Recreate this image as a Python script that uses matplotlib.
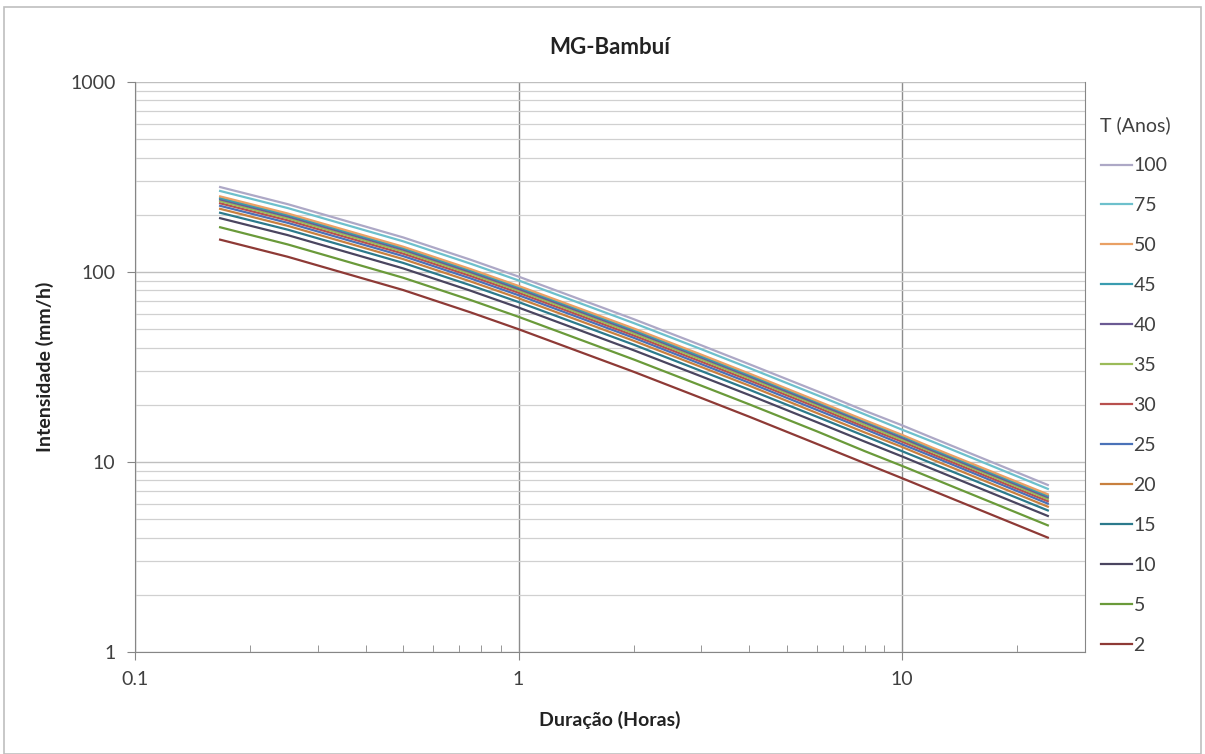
import matplotlib
matplotlib.use("Agg")
import matplotlib.pyplot as plt
from matplotlib.patches import Rectangle
from matplotlib.ticker import FixedLocator, LogLocator, NullFormatter

plt.rcParams["font.family"] = ["Lato", "DejaVu Sans"]

# Duration (hours) and intensity (mm/h)
durations = [0.1667, 0.25, 0.5, 0.75, 1, 2, 3, 4, 6, 8, 10, 12, 24]

return_periods = ["2", "5", "10", "15", "20", "25", "30", "35", "40", "45", "50", "75", "100"]

i_2 = [148, 120.3, 80.4, 61.3, 50.0, 29.8, 21.7, 17.3, 12.45, 9.85, 8.22, 7.07, 4.00]
i_5 = [172, 139.7, 93.3, 71.2, 58.1, 34.6, 25.2, 20.1, 14.5, 11.4, 9.54, 8.21, 4.64]
i_10 = [192, 156.4, 104.5, 79.7, 65.0, 38.7, 28.2, 22.5, 16.2, 12.8, 10.7, 9.19, 5.20]
i_15 = [205, 167.1, 111.7, 85.1, 69.5, 41.4, 30.1, 24.0, 17.3, 13.7, 11.4, 9.82, 5.56]
i_20 = [215, 175.0, 117.0, 89.2, 72.8, 43.4, 31.6, 25.2, 18.1, 14.3, 12.0, 10.3, 5.82]
i_25 = [223, 181.5, 121.3, 92.5, 75.5, 45.0, 32.7, 26.1, 18.8, 14.9, 12.4, 10.7, 6.04]
i_30 = [230, 187.1, 125.0, 95.3, 77.8, 46.3, 33.7, 26.9, 19.4, 15.3, 12.8, 11.0, 6.22]
i_35 = [236, 191.9, 128.2, 97.8, 79.8, 47.5, 34.6, 27.6, 19.9, 15.7, 13.1, 11.3, 6.38]
i_40 = [241, 196.1, 131.1, 99.9, 81.5, 48.6, 35.4, 28.2, 20.3, 16.1, 13.4, 11.5, 6.52]
i_45 = [245, 199.8, 133.5, 101.8, 83.1, 49.5, 36.0, 28.7, 20.7, 16.4, 13.7, 11.7, 6.64]
i_50 = [250, 203.3, 135.9, 103.6, 84.5, 50.4, 36.7, 29.2, 21.0, 16.6, 13.9, 11.9, 6.76]
i_75 = [267, 217.1, 145.1, 110.6, 90.3, 53.8, 39.2, 31.2, 22.5, 17.8, 14.8, 12.8, 7.22]
i_100 = [280, 227.6, 152.1, 116.0, 94.6, 56.4, 41.1, 32.7, 23.6, 18.6, 15.6, 13.4, 7.57]

intensities = [i_2, i_5, i_10, i_15, i_20, i_25, i_30, i_35, i_40, i_45, i_50, i_75, i_100]

colors = ["#8E3A36", "#6A9A3A", "#4A4560", "#2C7A8C", "#C8803F", "#4A72B8",
          "#B8504E", "#9BBB59", "#6B5A93", "#3A9CB0", "#E9A064", "#6DC0CC", "#ADA8C6"]

W, H = 1205, 754
fig = plt.figure(figsize=(W / 100, H / 100), dpi=100)
ax = fig.add_axes([135 / W, 1 - 652 / H, (1085 - 135) / W, (652 - 82) / H])

# chart area border
fig.patches.append(Rectangle((4 / W, 0), 1 - 8 / W, 1 - 7 / H, transform=fig.transFigure,
                             fill=False, edgecolor="#BFBFBF", linewidth=1.2))

lines = []
for label, vals, c in zip(return_periods, intensities, colors):
    ln, = ax.plot(durations, vals, color=c, linewidth=1.6, label=label)
    lines.append(ln)

ax.set_xscale("log")
ax.set_yscale("log")
ax.set_xlim(0.1, 30)
ax.set_ylim(1, 1000)

ax.xaxis.set_major_locator(FixedLocator([0.1, 1, 10]))
ax.xaxis.set_major_formatter(matplotlib.ticker.FixedFormatter(["0.1", "1", "10"]))
ax.xaxis.set_minor_locator(LogLocator(base=10, subs=range(2, 10), numticks=20))
ax.xaxis.set_minor_formatter(NullFormatter())
ax.yaxis.set_major_locator(FixedLocator([1, 10, 100, 1000]))
ax.yaxis.set_major_formatter(matplotlib.ticker.FixedFormatter(["1", "10", "100", "1000"]))
ax.yaxis.set_minor_locator(LogLocator(base=10, subs=range(2, 10), numticks=20))
ax.yaxis.set_minor_formatter(NullFormatter())

ax.grid(which="major", axis="x", color="#8C8C8C", linewidth=1.0)
ax.grid(which="major", axis="y", color="#BFBFBF", linewidth=1.0)
ax.grid(which="minor", axis="y", color="#D0D0D0", linewidth=0.9)
ax.set_axisbelow(True)

for side in ["left", "bottom", "right"]:
    ax.spines[side].set_color("#868686")
ax.spines["top"].set_visible(False)

ax.tick_params(axis="both", which="major", direction="out", length=6, color="#868686",
               labelsize=14, labelcolor="#404040", pad=8)
ax.tick_params(axis="x", which="minor", direction="in", length=5, color="#868686")
ax.tick_params(axis="y", which="minor", length=0)

ax.set_title("MG-Bambuí", fontsize=16, fontweight="bold", color="#222222", pad=20)
ax.set_xlabel("Duração (Horas)", fontsize=14, fontweight="bold", color="#222222", labelpad=16)
ax.set_ylabel("Intensidade (mm/h)", fontsize=14, fontweight="bold", color="#222222", labelpad=12)

leg = fig.legend(lines[::-1], return_periods[::-1], title="T (Anos)",
                 loc="upper left", bbox_to_anchor=(1083 / W, 1 - 99 / H),
                 frameon=False, fontsize=14, title_fontsize=14,
                 handlelength=1.6, handletextpad=0.1, labelspacing=1.18)
leg._legend_box.align = "left"
for t in leg.get_texts():
    t.set_color("#404040")
leg.get_title().set_color("#404040")

fig.savefig("out.png", dpi=100)
